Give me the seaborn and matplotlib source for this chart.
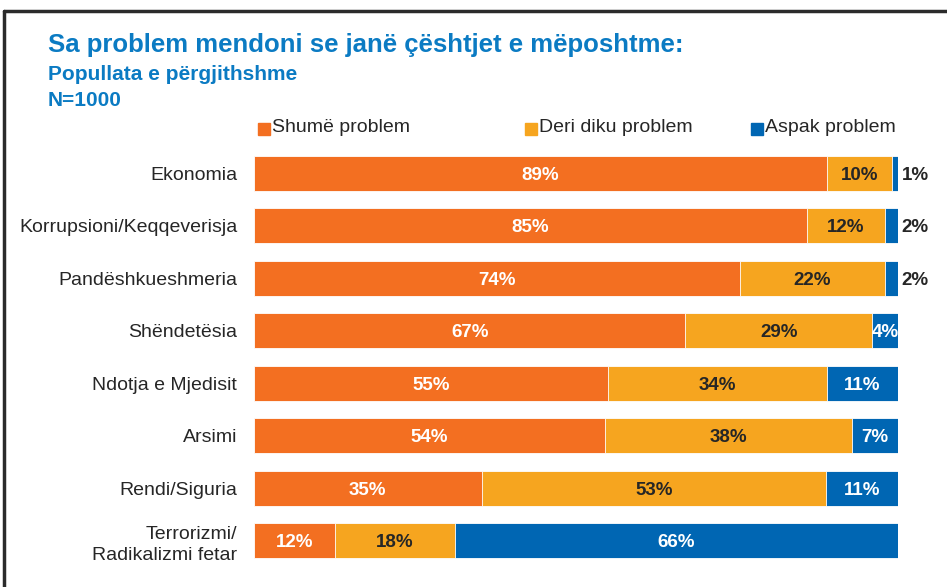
import matplotlib.pyplot as plt
import seaborn as sns
import pandas as pd
from matplotlib.lines import Line2D
from matplotlib.patches import Rectangle

# values (percent)
categories = ['Ekonomia', 'Korrupsioni/Keqqeverisja', 'Pandëshkueshmeria', 'Shëndetësia',
              'Ndotja e Mjedisit', 'Arsimi', 'Rendi/Siguria', 'Terrorizmi/\nRadikalizmi fetar']
shume = [89, 85, 74, 67, 55, 54, 35, 12]
deri = [10, 12, 22, 29, 34, 38, 53, 18]
aspak = [1, 2, 2, 4, 11, 7, 11, 66]
series_names = ['Shumë problem', 'Deri diku problem', 'Aspak problem']

ORANGE = '#F36F21'
YELLOW = '#F6A51F'
BLUE = '#0066B3'
TITLE_BLUE = '#0B7BC3'
DARK = '#262626'

df = pd.DataFrame({'cat': categories, 'shume': shume, 'deri': deri, 'aspak': aspak})
total = df[['shume', 'deri', 'aspak']].sum(axis=1)
# bars are drawn as 100% stacked
df['s_n'] = df['shume'] / total * 100
df['d_n'] = df['deri'] / total * 100
df['a_n'] = df['aspak'] / total * 100
df['c1'] = df['s_n']
df['c2'] = df['s_n'] + df['d_n']
df['c3'] = df['c2'] + df['a_n']

sns.set_style('white')
plt.rcParams['font.family'] = ['Liberation Sans', 'DejaVu Sans']

fig = plt.figure(figsize=(9.47, 5.87), dpi=100)
ax = fig.add_axes([254 / 947, 1 - 567 / 587, 644 / 947, 420 / 587])

w = 0.667
sns.barplot(data=df, x='c3', y='cat', color=BLUE, width=w, saturation=1, ax=ax,
            edgecolor='white', linewidth=0.6)
sns.barplot(data=df, x='c2', y='cat', color=YELLOW, width=w, saturation=1, ax=ax,
            edgecolor='white', linewidth=0.6)
sns.barplot(data=df, x='c1', y='cat', color=ORANGE, width=w, saturation=1, ax=ax,
            edgecolor='white', linewidth=0.6)

fs = 13.5
for i, row in df.iterrows():
    ax.text(row['c1'] / 2, i, f"{row['shume']}%", ha='center', va='center_baseline',
            color='white', fontsize=fs, fontweight='bold')
    ax.text((row['c1'] + row['c2']) / 2, i, f"{row['deri']}%", ha='center',
            va='center_baseline', color=DARK, fontsize=fs, fontweight='bold')
    if row['aspak'] <= 2:
        ax.text(row['c3'] + 0.6, i, f"{row['aspak']}%", ha='left', va='center_baseline',
                color=DARK, fontsize=fs, fontweight='bold')
    else:
        ax.text((row['c2'] + row['c3']) / 2, i, f"{row['aspak']}%", ha='center',
                va='center_baseline', color='white', fontsize=fs, fontweight='bold')

ax.set_xlim(0, 100)
ax.set_ylim(7.5, -0.5)
ax.set_xlabel('')
ax.set_ylabel('')
ax.set_xticks([])
ax.tick_params(axis='y', length=0, pad=12, labelsize=14, labelcolor=DARK)
for lab in ax.get_yticklabels():
    lab.set_linespacing(1.35)
sns.despine(ax=ax, left=True, bottom=True)

# titles
fig.text(48 / 947, 1 - 45 / 587, 'Sa problem mendoni se janë çështjet e mëposhtme:',
         fontsize=18.5, fontweight='bold', color=TITLE_BLUE, va='center')
fig.text(48 / 947, 1 - 75 / 587, 'Popullata e përgjithshme',
         fontsize=15, fontweight='bold', color=TITLE_BLUE, va='center')
fig.text(48 / 947, 1 - 101 / 587, 'N=1000',
         fontsize=15, fontweight='bold', color=TITLE_BLUE, va='center')

# legend
leg_x = [258, 525, 751]
for xp, name, col in zip(leg_x, series_names, [ORANGE, YELLOW, BLUE]):
    fig.patches.append(Rectangle((xp / 947, 1 - 135 / 587), 12 / 947, 12 / 587,
                                 transform=fig.transFigure, color=col, figure=fig))
    fig.text((xp + 14) / 947, 1 - 128 / 587, name, fontsize=14, color=DARK, va='center')

# frame lines at top and left
fig.add_artist(Line2D([4 / 947, 1], [1 - 11 / 587, 1 - 11 / 587], color='#2b2b2b', lw=2.5,
                      transform=fig.transFigure))
fig.add_artist(Line2D([4 / 947, 4 / 947], [0, 1 - 11 / 587], color='#2b2b2b', lw=2.5,
                      transform=fig.transFigure))

fig.savefig('out.png', dpi=100)
